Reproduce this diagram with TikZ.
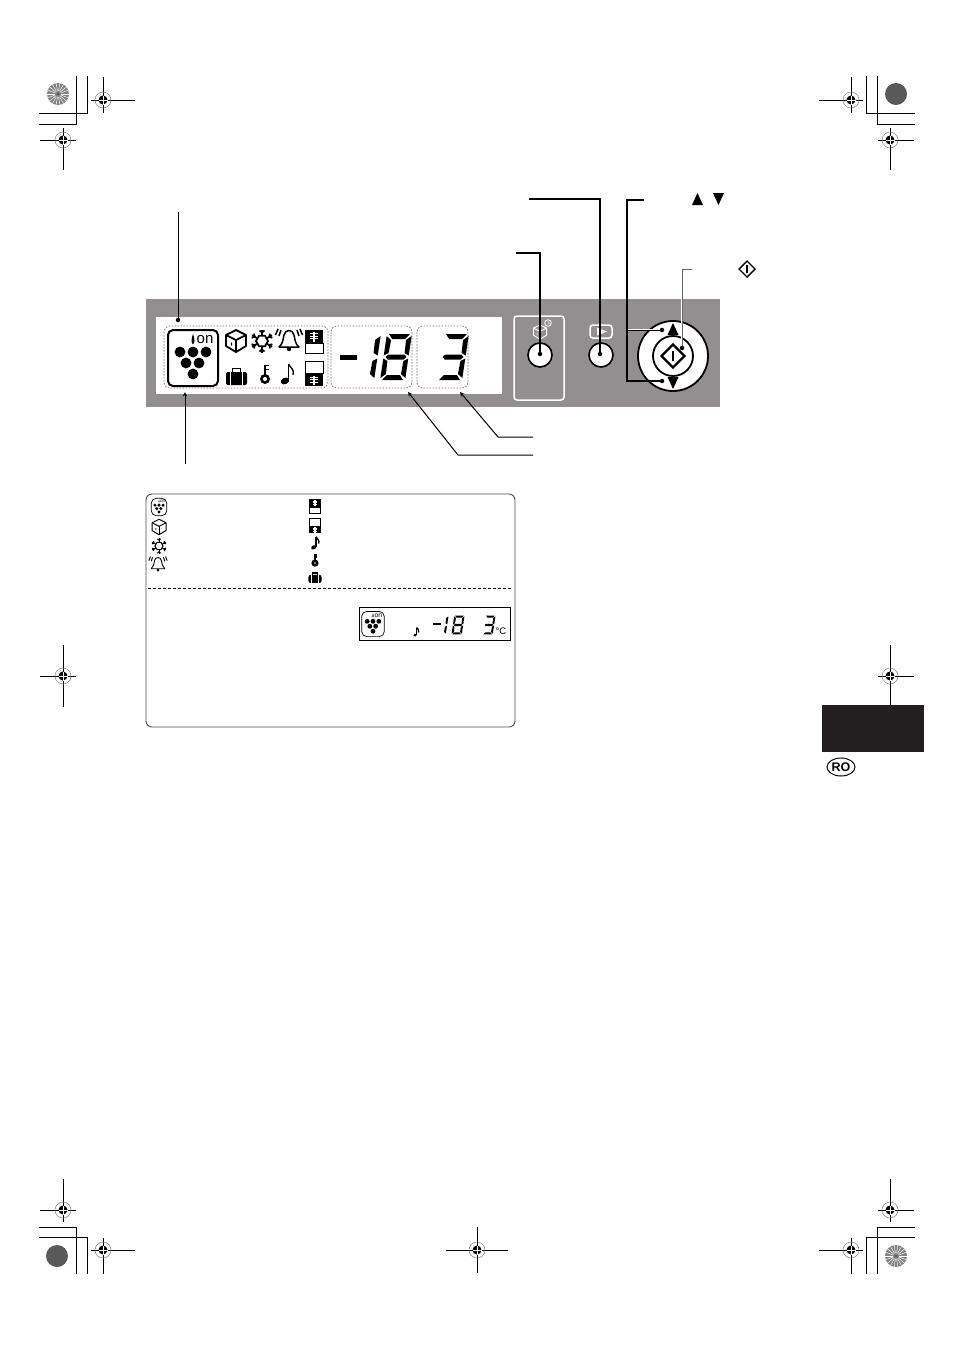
\documentclass[tikz,border=0pt]{standalone}
\usepackage{fontspec}
\setmainfont{Liberation Sans}
\usetikzlibrary{positioning,shapes.geometric}

\definecolor{panelgray}{HTML}{918F8F}
\definecolor{inkdark}{HTML}{231F20}

\def\sega{(-10.5,-23)--(10.5,-23)--(6.5,-18)--(-6.5,-18)--cycle}
\def\segb{(12.5,-21)--(12.5,-1.5)--(8,-4)--(7.5,-17)--cycle}
\def\segc{(12.5,1.5)--(12.5,21)--(7.5,17)--(8,4)--cycle}
\def\segd{(-10.5,23)--(10.5,23)--(6.5,18)--(-6.5,18)--cycle}
\def\sege{(-12.5,1.5)--(-12.5,21)--(-7.5,17)--(-8,4)--cycle}
\def\segf{(-12.5,-21)--(-12.5,-1.5)--(-8,-4)--(-7.5,-17)--cycle}
\def\segg{(-8,-2.5)--(8,-2.5)--(10.5,0)--(8,2.5)--(-8,2.5)--(-10.5,0)--cycle}

\newcommand{\regmark}[6]{
    \draw[line width=.9pt] (#3,#2) -- (#4,#2);
    \draw[line width=.9pt] (#1,#5) -- (#1,#6);
    \draw[gray, line width=.5pt] (#1,#2) circle (8);
    \fill (#1,#2) circle (4.5);
    \draw[white, line width=.5pt] (#1-4.5,#2) -- (#1+4.5,#2);
    \draw[white, line width=.5pt] (#1,#2-4.5) -- (#1,#2+4.5);
}

\newcommand{\burst}[2]{
    \fill[gray] (#1,#2) circle (11);
    \foreach \a in {0,20,...,340} {
        \draw[white, line width=.5pt] (#1,#2) ++(\a:3) -- ++(\a:8);
    }
    \fill[black!70] (#1,#2) circle (1.2);
}

\tikzset{
    pics/grapes/.style={code={
        \draw[rounded corners=5pt] (-25,-28) rectangle (25,28);
        \foreach \x/\y in {-13/-6, 0/-6, 13/-6, -7/5, 6/5, 0/16} {
            \fill (\x,\y) circle (5.4);
        }
        \fill (0,-24) .. controls (2,-19) and (2,-14) .. (0,-14) .. controls (-2,-14) and (-2,-19) .. (0,-24) -- cycle;
        \node[font=\fontsize{15}{15}\selectfont, inner sep=0pt, transform shape] (-on) at (12,-18) {on};
    }},
    pics/cube/.style={code={
        \draw[line join=round] (0,-11) -- (10,-6) -- (10,5) -- (0,11) -- (-10,5) -- (-10,-6) -- cycle;
        \draw[line join=round] (-10,-6) -- (0,-1) -- (10,-6);
        \draw (0,-1) -- (0,11);
        \fill (-4.5,3) ellipse (.8 and 1.8);
    }},
    pics/flake/.style={code={
        \draw (0:6) -- (60:6) -- (120:6) -- (180:6) -- (240:6) -- (300:6) -- cycle;
        \foreach \a in {30,90,...,330} {
            \draw (\a:5) -- (\a:11.5);
            \draw (\a:8.5) -- ++(\a+50:3.2);
            \draw (\a:8.5) -- ++(\a-50:3.2);
        }
    }},
    pics/bell/.style={code={
        \draw[line join=round] (-10,7) .. controls (-6,4) and (-6,-1) .. (-5,-5) .. controls (-4,-11) and (4,-11) .. (5,-5) .. controls (6,-1) and (6,4) .. (10,7) -- cycle;
        \fill (0,9) circle (2.2);
        \draw (-8,-10) -- (-10,-4);
        \draw (-11,-11) -- (-13.5,-5);
        \draw (8,-10) -- (10,-4);
        \draw (11,-11) -- (13.5,-5);
    }},
    pics/freezeup/.style={code={
        \fill (-9,-12) rectangle (9,2);
        \draw (-9,2) rectangle (9,12);
        \draw[white, line width=1.6pt] (0,-10) -- (0,0);
        \draw[white, line width=.8pt] (-4,-8) -- (4,-8) (-4,-5.5) -- (4,-5.5) (-4,-3) -- (4,-3);
    }},
    pics/freezedown/.style={code={
        \draw (-9,-12) rectangle (9,0);
        \fill (-9,0) rectangle (9,12);
        \draw[white, line width=1.6pt] (0,2) -- (0,11);
        \draw[white, line width=.8pt] (-4,3.5) -- (4,3.5) (-4,6) -- (4,6) (-4,8.5) -- (4,8.5);
    }},
    pics/case/.style={code={
        \draw[line width=1.6pt] (-4,-5) -- (-4,-8.5) -- (4,-8.5) -- (4,-5);
        \fill[rounded corners=2pt] (-10.5,-5) rectangle (10.5,8);
        \fill[white] (-6.2,-5) rectangle (-5.2,8);
        \fill[white] (5.2,-5) rectangle (6.2,8);
    }},
    pics/key/.style={code={
        \draw[line width=2.6pt] (0,5) circle (3.6);
        \draw[line width=2.6pt] (0,1) -- (0,-9.5);
        \draw[line width=1.8pt] (0,-8.5) -- (4,-8.5) (0,-4.5) -- (4,-4.5);
    }},
    pics/note/.style={code={
        \fill[rotate around={25:(-2,7)}] (-2,7) ellipse (4.4 and 3.2);
        \draw[line width=1.5pt] (1.6,7) -- (1.6,-10);
        \draw[line width=1.3pt] (1.6,-10) .. controls (3,-6) and (8,-5) .. (6,1);
    }},
    pics/digeight/.style={code={\fill[xslant=.15] \sega \segb \segc \segd \sege \segf \segg;}},
    pics/digone/.style={code={\fill[xslant=.15] \segb \segc;}},
    pics/digthree/.style={code={\fill[xslant=.15] \sega \segb \segc \segd \segg;}},
    pics/digminus/.style={code={\fill (-8.5,-2.5) rectangle (8.5,2.5);}},
    button/.style={circle, draw=black, fill=white, line width=1.6pt, minimum size=24pt, inner sep=0pt},
    dot/.style={circle, fill=black, minimum size=4.5pt, inner sep=0pt},
    lead/.style={line width=1pt, line join=miter},
    zone/.style={draw=black!55, dash pattern=on 1.5pt off 1.5pt, line width=.8pt, rounded corners=6pt},
    crop/.style={line width=.9pt, line join=miter}
}

\begin{document}
\begin{tikzpicture}[x=1pt, y=-1pt]
    \useasboundingbox (0,0) rectangle (954,1350);

    % printer marks
    \draw[crop] (39,113) -- (87,113) -- (87,76);
    \draw[crop] (39,124) -- (76,124) -- (76,76);
    \draw[crop] (915,113) -- (866,113) -- (866,76);
    \draw[crop] (915,124) -- (877,124) -- (877,76);
    \draw[crop] (39,1227) -- (76,1227) -- (76,1274);
    \draw[crop] (39,1237) -- (87,1237) -- (87,1274);
    \draw[crop] (915,1227) -- (877,1227) -- (877,1274);
    \draw[crop] (915,1237) -- (866,1237) -- (866,1274);
    \regmark{103}{100}{91}{135}{77}{113}
    \regmark{63}{140}{40}{76}{128}{170}
    \regmark{851}{100}{819}{863}{77}{113}
    \regmark{890}{140}{878}{914}{128}{170}
    \regmark{63}{676}{40}{76}{645}{707}
    \regmark{890}{676}{878}{914}{645}{705}
    \regmark{63}{1210}{40}{76}{1179}{1222}
    \regmark{103}{1250}{91}{135}{1238}{1274}
    \regmark{477}{1250}{446}{508}{1227}{1273}
    \regmark{851}{1250}{819}{863}{1238}{1274}
    \regmark{890}{1210}{878}{914}{1179}{1222}
    \burst{58}{94}
    \burst{896}{1256}
    \fill[black!65] (896,94) circle (11);
    \fill[black!65] (57,1256) circle (11);

    % control panel
    \fill[panelgray] (146,299) rectangle (720,407);
    \fill[white] (156,317) rectangle (502,394);
    \draw[zone] (164,326) rectangle (328,388);
    \draw[zone] (331,326) rectangle (412,388);
    \draw[zone] (417,326) rectangle (468,388);

    \pic (gbig) [line width=2pt] at (193,358) {grapes};
    \pic [line width=1.8pt] at (236,341) {cube};
    \pic [line width=1.8pt] at (262,341) {flake};
    \pic [line width=1.5pt] at (289,340) {bell};
    \pic [line width=.7pt] at (314,341.5) {freezeup};
    \pic at (236.5,377) {case};
    \pic at (265,374) {key};
    \pic at (287,374) {note};
    \pic [line width=.7pt] at (314,373.5) {freezedown};
    \pic at (348,357) {digminus};
    \pic at (365,357) {digone};
    \pic at (396,357) {digeight};
    \pic at (453,357) {digthree};

    \draw[white, line width=1.5pt, rounded corners=3pt] (514,316) rectangle (564,400);
    \pic [color=white, line width=1pt, scale=.65] at (540,332) {cube};
    \draw[white, line width=.8pt] (548,323) circle (3.3);
    \draw[white, line width=.5pt] (548,321) -- (548,323) -- (550,324);
    \node[button] (btnfreeze) at (540,355) {};
    \draw[white, line width=1.5pt, rounded corners=3pt] (590,325) rectangle (612,338);
    \fill[white] (597,327.5) -- (607,331.5) -- (597,335.5) -- cycle;
    \node[button] (btnmode) at (601,355) {};

    \node[circle, draw=black, fill=white, line width=1.8pt, minimum size=70pt, inner sep=0pt] (dial) at (673,356) {};
    \node[circle, draw=black, line width=1.8pt, minimum size=40pt, inner sep=0pt] (btnstart) at (dial) {};
    \draw[line width=2.2pt, line join=miter] (661.5,356) -- (673,344.5) -- (684.5,356) -- (673,367.5) -- cycle;
    \draw[line width=1.5pt] (673,351) -- (673,361);
    \fill (673,323) -- (678.5,335) -- (667.5,335) -- cycle;
    \fill (673,389) -- (678.5,377) -- (667.5,377) -- cycle;

    % leader lines
    \node[dot] (dgrapes) at (178,320) {};
    \node[dot] (dfreeze) at (540,354) {};
    \node[dot] (dmode) at (600,354) {};
    \node[dot] (dup) at (662,330) {};
    \node[dot] (ddown) at (662,381) {};
    \node[dot] (dstart) at (682,348) {};
    \coordinate (lgrapes) at (178,212);
    \coordinate (lfreeze) at (516,253);
    \coordinate (lmode) at (529,199);
    \coordinate (ladjust) at (644,200);
    \coordinate (cadjust) at (627,200);
    \coordinate (cup) at (627,330);
    \coordinate (cdown) at (627,381);
    \coordinate (lstart) at (692,269);
    \coordinate (cstart) at (682,269);
    \coordinate (estart) at (682,299);
    \coordinate (lzone) at (185,464);
    \coordinate (tzone) at (185,392);
    \coordinate (ltemp) at (533,455);
    \coordinate (bendtemp) at (458,455);
    \coordinate (ttemp) at (408,392);
    \coordinate (ltimer) at (533,437);
    \coordinate (bendtimer) at (498,437);
    \coordinate (ttimer) at (460,392);

    \draw[lead] (lgrapes) -- (dgrapes);
    \draw[lead, line width=1.3pt] (lfreeze) -| (dfreeze);
    \draw[lead, line width=1.3pt] (lmode) -| (dmode);
    \draw[white, line width=2.6pt] (cup) -- (dup);
    \draw[white, line width=2.6pt] (cdown) -- (ddown);
    \draw[lead, line width=1.5pt] (ladjust) -- (cadjust) -- (cdown) -- (ddown);
    \draw[lead] (cup) -- (dup);
    \draw[white, line width=1.6pt] (estart) -- (dstart);
    \draw[lead, draw=black!60] (lstart) -- (cstart) -- (dstart);
    \draw[lead, ->, >=stealth] (lzone) -- (tzone);
    \draw[lead, ->, >=stealth] (ltemp) -- (bendtemp) -- (ttemp);
    \draw[lead, ->, >=stealth] (ltimer) -- (bendtimer) -- (ttimer);

    % symbols beside the labels
    \fill (697.5,193) -- (703,205) -- (692,205) -- cycle;
    \fill (718.5,205) -- (724,193) -- (713,193) -- cycle;
    \draw[line width=1.4pt, line join=miter] (739,269) -- (747,261) -- (755,269) -- (747,277) -- cycle;
    \draw[line width=1.1pt] (747,265) -- (747,273);

    % legend box
    \draw[black!70, line width=.9pt, rounded corners=6pt] (146,494) rectangle (515,727);
    \pic [line width=.7pt, scale=.31, transform shape] at (159,507) {grapes};
    \pic [line width=1pt, scale=.7] at (159,527) {cube};
    \pic [line width=1pt, scale=.68] at (159,546) {flake};
    \pic [line width=.9pt, scale=.68] at (158,564) {bell};
    \pic [line width=.6pt, scale=.62] at (315,506) {freezeup};
    \pic [line width=.6pt, scale=.62] at (315,526) {freezedown};
    \pic [line width=.6pt, scale=.62] at (315,543) {note};
    \pic [line width=.6pt, scale=.62] at (315,560) {key};
    \pic [line width=.6pt, scale=.62] at (315,578) {case};
    \draw[black, line width=.8pt, dash pattern=on 3pt off 2pt] (148,588) -- (512,588);

    % sample display
    \draw[black, line width=.9pt] (359,607) rectangle (510,640);
    \pic [line width=.7pt, scale=.45, transform shape] at (373,624) {grapes};
    \pic [line width=.5pt, scale=.45] at (416,632) {note};
    \pic [scale=.45] at (437,624) {digminus};
    \pic [scale=.41] at (442,625) {digone};
    \pic [scale=.41] at (458,625) {digeight};
    \pic [scale=.41] at (489,625) {digthree};
    \node[font=\fontsize{9.5}{9.5}\selectfont, inner sep=0pt] (unit) at (501,631) {°C};

    % language tab
    \fill[inkdark] (822,705) rectangle (924,752);
    \node[ellipse, draw=black, line width=1pt, minimum width=28pt, minimum height=18pt, inner sep=0pt, font=\bfseries\fontsize{12.5}{12.5}\selectfont] (lang) at (841,767) {RO};
\end{tikzpicture}
\end{document}
